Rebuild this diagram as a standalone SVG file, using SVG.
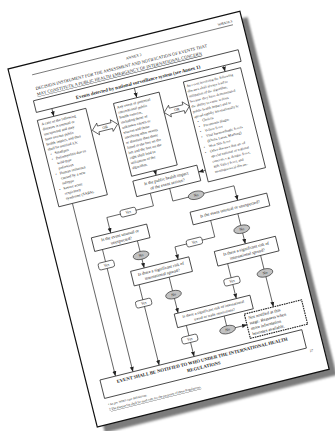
<svg xmlns="http://www.w3.org/2000/svg" width="335" height="431" viewBox="0 0 335 431">
<defs>
<style>
.t{font-family:"Liberation Serif","Times New Roman",serif;fill:#1c1c1c}
.s{font-size:3.8px}
.q{font-size:4.3px;text-anchor:middle}
.bx{fill:#fff;stroke:#222;stroke-width:0.75}
.ln{fill:none;stroke:#333;stroke-width:0.7}
.yes{fill:#fff;stroke:#222;stroke-width:0.65}
.no{fill:#c2c2c2;stroke:#222;stroke-width:0.6}
.yn{font-size:3.9px;text-anchor:middle}
.or{fill:#fff;stroke:#222;stroke-width:0.65}
</style>
<marker id="ah" viewBox="0 0 6 6" refX="6" refY="3" markerWidth="5" markerHeight="5" markerUnits="userSpaceOnUse" orient="auto">
<path d="M0,0.6 L6,3 L0,5.4 Z" fill="#222"/>
</marker>
<filter id="blur" x="-5%" y="-5%" width="110%" height="110%"><feGaussianBlur stdDeviation="1.2"/></filter>
<path id="orArrow" d="M-13,0 L-7,-6 L-7,-3 L7,-3 L7,-6 L13,0 L7,6 L7,3 L-7,3 L-7,6 Z"/>
</defs>
<rect width="335" height="431" fill="#fff"/>
<g transform="translate(8,69) rotate(-14)">
<rect id="shadow" x="6" y="7.5" width="239" height="369" fill="#7c7c7c" filter="url(#blur)"/>
<rect id="page" x="0" y="0" width="239" height="369" fill="#fff" stroke="#111" stroke-width="1.2"/>

<g id="header">
<text class="t" x="229" y="9" font-size="3.6" text-anchor="end">WHA58.3</text>
<line x1="22" y1="11.5" x2="229" y2="11.5" stroke="#333" stroke-width="0.6"/>
<text class="t" x="125" y="19.5" font-size="3.8" text-anchor="middle">ANNEX 2</text>
<text class="t" x="22" y="27" font-size="4.4">DECISION INSTRUMENT FOR THE ASSESSMENT AND NOTIFICATION OF EVENTS THAT</text>
<text class="t" x="22" y="33" font-size="4.4" text-decoration="underline">MAY CONSTITUTE A PUBLIC HEALTH EMERGENCY OF INTERNATIONAL CONCERN</text>
</g>

<g id="connectors">
<line class="ln" x1="33" y1="49" x2="33" y2="57" marker-end="url(#ah)"/>
<line class="ln" x1="118" y1="49" x2="118" y2="59" marker-end="url(#ah)"/>
<line class="ln" x1="210" y1="49" x2="210" y2="55" marker-end="url(#ah)"/>
<line class="ln" x1="30" y1="146" x2="30" y2="324" marker-end="url(#ah)"/>
<line class="ln" x1="118" y1="134" x2="118" y2="139" marker-end="url(#ah)"/>
<line class="ln" x1="167" y1="146" x2="160" y2="146" marker-end="url(#ah)"/>
<polyline class="ln" points="108,155 108,168 60,168 60,184" marker-end="url(#ah)"/>
<polyline class="ln" points="128,155 128,168 191,168 191,183" marker-end="url(#ah)"/>
<line class="ln" x1="48" y1="198" x2="48" y2="324" marker-end="url(#ah)"/>
<line class="ln" x1="84" y1="198" x2="84" y2="226" marker-end="url(#ah)"/>
<polyline class="ln" points="160,196 160,213 119,213 119,226" marker-end="url(#ah)"/>
<line class="ln" x1="188" y1="196" x2="188" y2="227" marker-end="url(#ah)"/>
<line class="ln" x1="75" y1="241" x2="75" y2="324" marker-end="url(#ah)"/>
<line class="ln" x1="106" y1="241" x2="106" y2="278" marker-end="url(#ah)"/>
<line class="ln" x1="166" y1="242" x2="166" y2="278" marker-end="url(#ah)"/>
<line class="ln" x1="200" y1="242" x2="200" y2="295" marker-end="url(#ah)"/>
<line class="ln" x1="111" y1="292" x2="111" y2="324" marker-end="url(#ah)"/>
<polyline class="ln" points="150,292 150,306 170,306" marker-end="url(#ah)"/>
</g>

<g id="events">
<rect class="bx" x="17" y="37" width="211" height="12"/>
<text class="t" x="123" y="45.8" font-size="4.9" font-weight="bold" text-anchor="middle">Events detected by national surveillance system (see Annex 1)</text>
</g>

<g id="box-left">
<rect class="bx" x="16" y="57" width="50" height="89"/>
<text class="t s">
<tspan x="19" y="63">A case of the following</tspan>
<tspan x="19" y="68.2">diseases is unusual or</tspan>
<tspan x="19" y="73.4">unexpected and may</tspan>
<tspan x="19" y="78.6">have serious public</tspan>
<tspan x="19" y="83.8">health impact, and thus</tspan>
<tspan x="19" y="89">shall be notified a,b:</tspan>
<tspan x="20.5" y="94.2">•</tspan><tspan x="25" y="94.2">Smallpox</tspan>
<tspan x="20.5" y="99.4">•</tspan><tspan x="25" y="99.4">Poliomyelitis due to</tspan>
<tspan x="25" y="104.6">wild-type</tspan>
<tspan x="25" y="109.8">poliovirus</tspan>
<tspan x="20.5" y="115">•</tspan><tspan x="25" y="115">Human influenza</tspan>
<tspan x="25" y="120.2">caused by a new</tspan>
<tspan x="25" y="125.4">subtype</tspan>
<tspan x="20.5" y="130.6">•</tspan><tspan x="25" y="130.6">Severe acute</tspan>
<tspan x="25" y="135.8">respiratory</tspan>
<tspan x="25" y="141">syndrome (SARS).</tspan>
</text>
</g>

<g id="or-left">
<use href="#orArrow" class="or" transform="translate(80,80)"/>
<text class="t" x="80" y="81.4" font-size="3.8" text-anchor="middle">OR</text>
</g>

<g id="box-middle">
<rect class="bx" x="94" y="59" width="47" height="75"/>
<text class="t s">
<tspan x="96.5" y="65">Any event of potential</tspan>
<tspan x="96.5" y="70.2">international public</tspan>
<tspan x="96.5" y="75.4">health concern,</tspan>
<tspan x="96.5" y="80.6">including those of</tspan>
<tspan x="96.5" y="85.8">unknown causes or</tspan>
<tspan x="96.5" y="91">sources and those</tspan>
<tspan x="96.5" y="96.2">involving other events</tspan>
<tspan x="96.5" y="101.4">or diseases than those</tspan>
<tspan x="96.5" y="106.6">listed in the box on the</tspan>
<tspan x="96.5" y="111.8">left and the box on the</tspan>
<tspan x="96.5" y="117">right shall lead to</tspan>
<tspan x="96.5" y="122.2">utilization of the</tspan>
<tspan x="96.5" y="127.4">algorithm.</tspan>
</text>
</g>

<g id="or-right">
<use href="#orArrow" class="or" transform="translate(154,80)"/>
<text class="t" x="154" y="81.4" font-size="3.8" text-anchor="middle">OR</text>
</g>

<g id="box-right">
<rect class="bx" x="167" y="55" width="59" height="103"/>
<text class="t" font-size="3.6">
<tspan x="169" y="61">An event involving the following</tspan>
<tspan x="169" y="66.3">diseases shall always lead to</tspan>
<tspan x="169" y="71.6">utilization of the algorithm,</tspan>
<tspan x="169" y="76.9">because they have demonstrated</tspan>
<tspan x="169" y="82.2">the ability to cause serious</tspan>
<tspan x="169" y="87.5">public health impact and to</tspan>
<tspan x="169" y="92.8">spread rapidly internationally b:</tspan>
<tspan x="171" y="98.1">•</tspan><tspan x="176" y="98.1">Cholera</tspan>
<tspan x="171" y="103.4">•</tspan><tspan x="176" y="103.4">Pneumonic plague</tspan>
<tspan x="171" y="108.7">•</tspan><tspan x="176" y="108.7">Yellow fever</tspan>
<tspan x="171" y="114">•</tspan><tspan x="176" y="114">Viral haemorrhagic fevers</tspan>
<tspan x="176" y="119.3">(Ebola, Lassa, Marburg)</tspan>
<tspan x="171" y="124.6">•</tspan><tspan x="176" y="124.6">West Nile fever</tspan>
<tspan x="171" y="129.9">•</tspan><tspan x="176" y="129.9">Other diseases that are of</tspan>
<tspan x="176" y="135.2">special national or regional</tspan>
<tspan x="176" y="140.5">concern, e.g. dengue fever,</tspan>
<tspan x="176" y="145.8">Rift Valley fever, and</tspan>
<tspan x="176" y="151.1">meningococcal disease.</tspan>
</text>
</g>

<g id="q-impact">
<rect class="bx" x="94" y="139" width="66" height="16"/>
<text class="t q"><tspan x="127" y="145.8">Is the public health impact</tspan><tspan x="127" y="151.6">of the event serious?</tspan></text>
</g>

<g id="yes-1"><rect class="yes" x="74" y="164.5" width="16" height="7" rx="2"/><text class="t yn" x="82" y="169.3">Yes</text></g>
<g id="no-1"><ellipse class="no" cx="152" cy="168" rx="8" ry="4"/><text class="t yn" x="152" y="169.3">No</text></g>

<g id="q-unusual-left">
<rect class="bx" x="40" y="184" width="57" height="14"/>
<text class="t q"><tspan x="68.5" y="189.8">Is the event unusual or</tspan><tspan x="68.5" y="195.2">unexpected?</tspan></text>
</g>

<g id="q-unusual-right">
<rect class="bx" x="142" y="183" width="79" height="13"/>
<text class="t q" x="181.5" y="190.8">Is the event unusual or unexpected?</text>
</g>

<g id="yes-2l"><rect class="yes" x="40" y="210.5" width="16" height="7" rx="2"/><text class="t yn" x="48" y="215.3">Yes</text></g>
<g id="no-2l"><ellipse class="no" cx="84" cy="213" rx="8" ry="4"/><text class="t yn" x="84" y="214.3">No</text></g>
<g id="yes-2r"><rect class="yes" x="131" y="209.5" width="16" height="7" rx="2"/><text class="t yn" x="139" y="214.3">Yes</text></g>
<g id="no-2r"><ellipse class="no" cx="188" cy="212" rx="8" ry="4"/><text class="t yn" x="188" y="213.3">No</text></g>

<g id="q-spread-left">
<rect class="bx" x="70" y="226" width="60" height="15"/>
<text class="t q"><tspan x="100" y="232.3">Is there a significant risk of</tspan><tspan x="100" y="237.9">international spread?</tspan></text>
</g>

<g id="q-spread-right">
<rect class="bx" x="156" y="227" width="63" height="15"/>
<text class="t q"><tspan x="187.5" y="233.3">Is there a significant risk of</tspan><tspan x="187.5" y="238.9">international spread?</tspan></text>
</g>

<g id="yes-3l"><rect class="yes" x="67" y="256.5" width="16" height="7" rx="2"/><text class="t yn" x="75" y="261.3">Yes</text></g>
<g id="no-3l"><ellipse class="no" cx="106" cy="259" rx="8" ry="4"/><text class="t yn" x="106" y="260.3">No</text></g>
<g id="yes-3r"><rect class="yes" x="158" y="256.5" width="16" height="7" rx="2"/><text class="t yn" x="166" y="261.3">Yes</text></g>
<g id="no-3r"><ellipse class="no" cx="200" cy="260" rx="8" ry="4"/><text class="t yn" x="200" y="261.3">No</text></g>

<g id="q-travel">
<rect class="bx" x="102" y="278" width="78" height="14"/>
<text class="t" font-size="3.9" text-anchor="middle"><tspan x="141" y="283.8">Is there a significant risk of international</tspan><tspan x="141" y="289.3">travel or trade restrictions?</tspan></text>
</g>

<g id="yes-4"><rect class="yes" x="103" y="302.5" width="16" height="7" rx="2"/><text class="t yn" x="111" y="307.3">Yes</text></g>
<g id="no-4"><ellipse class="no" cx="150" cy="306" rx="8" ry="4"/><text class="t yn" x="150" y="307.3">No</text></g>

<g id="not-notified">
<rect x="170" y="295" width="59" height="25" fill="#fff" stroke="#1a1a1a" stroke-width="1.1" stroke-dasharray="1.6,0.8"/>
<text class="t" font-size="4.4"><tspan x="173" y="301">Not notified at this</tspan><tspan x="173" y="306.5">stage. Reassess when</tspan><tspan x="173" y="312">more information</tspan><tspan x="173" y="317.5">becomes available.</tspan></text>
</g>

<g id="notify">
<rect class="bx" x="14" y="324" width="208" height="19"/>
<text class="t" x="118" y="331" font-size="4.7" font-weight="bold" text-anchor="middle">EVENT SHALL BE NOTIFIED TO WHO UNDER THE INTERNATIONAL HEALTH</text>
<text class="t" x="118" y="337.8" font-size="4.7" font-weight="bold" text-anchor="middle">REGULATIONS</text>
</g>

<g id="footer">
<text class="t" x="228" y="348" font-size="3.6" text-anchor="end">27</text>
<text class="t" x="16" y="351" font-size="3.2"><tspan font-size="2.4" dy="-1">a</tspan><tspan dy="1"> As per WHO case definitions.</tspan></text>
<text class="t" x="16" y="356" font-size="3.2" text-decoration="underline"><tspan font-size="2.4" dy="-1">b</tspan><tspan dy="1"> The disease list shall be used only for the purposes of these Regulations.</tspan></text>
</g>
</g>
</svg>
